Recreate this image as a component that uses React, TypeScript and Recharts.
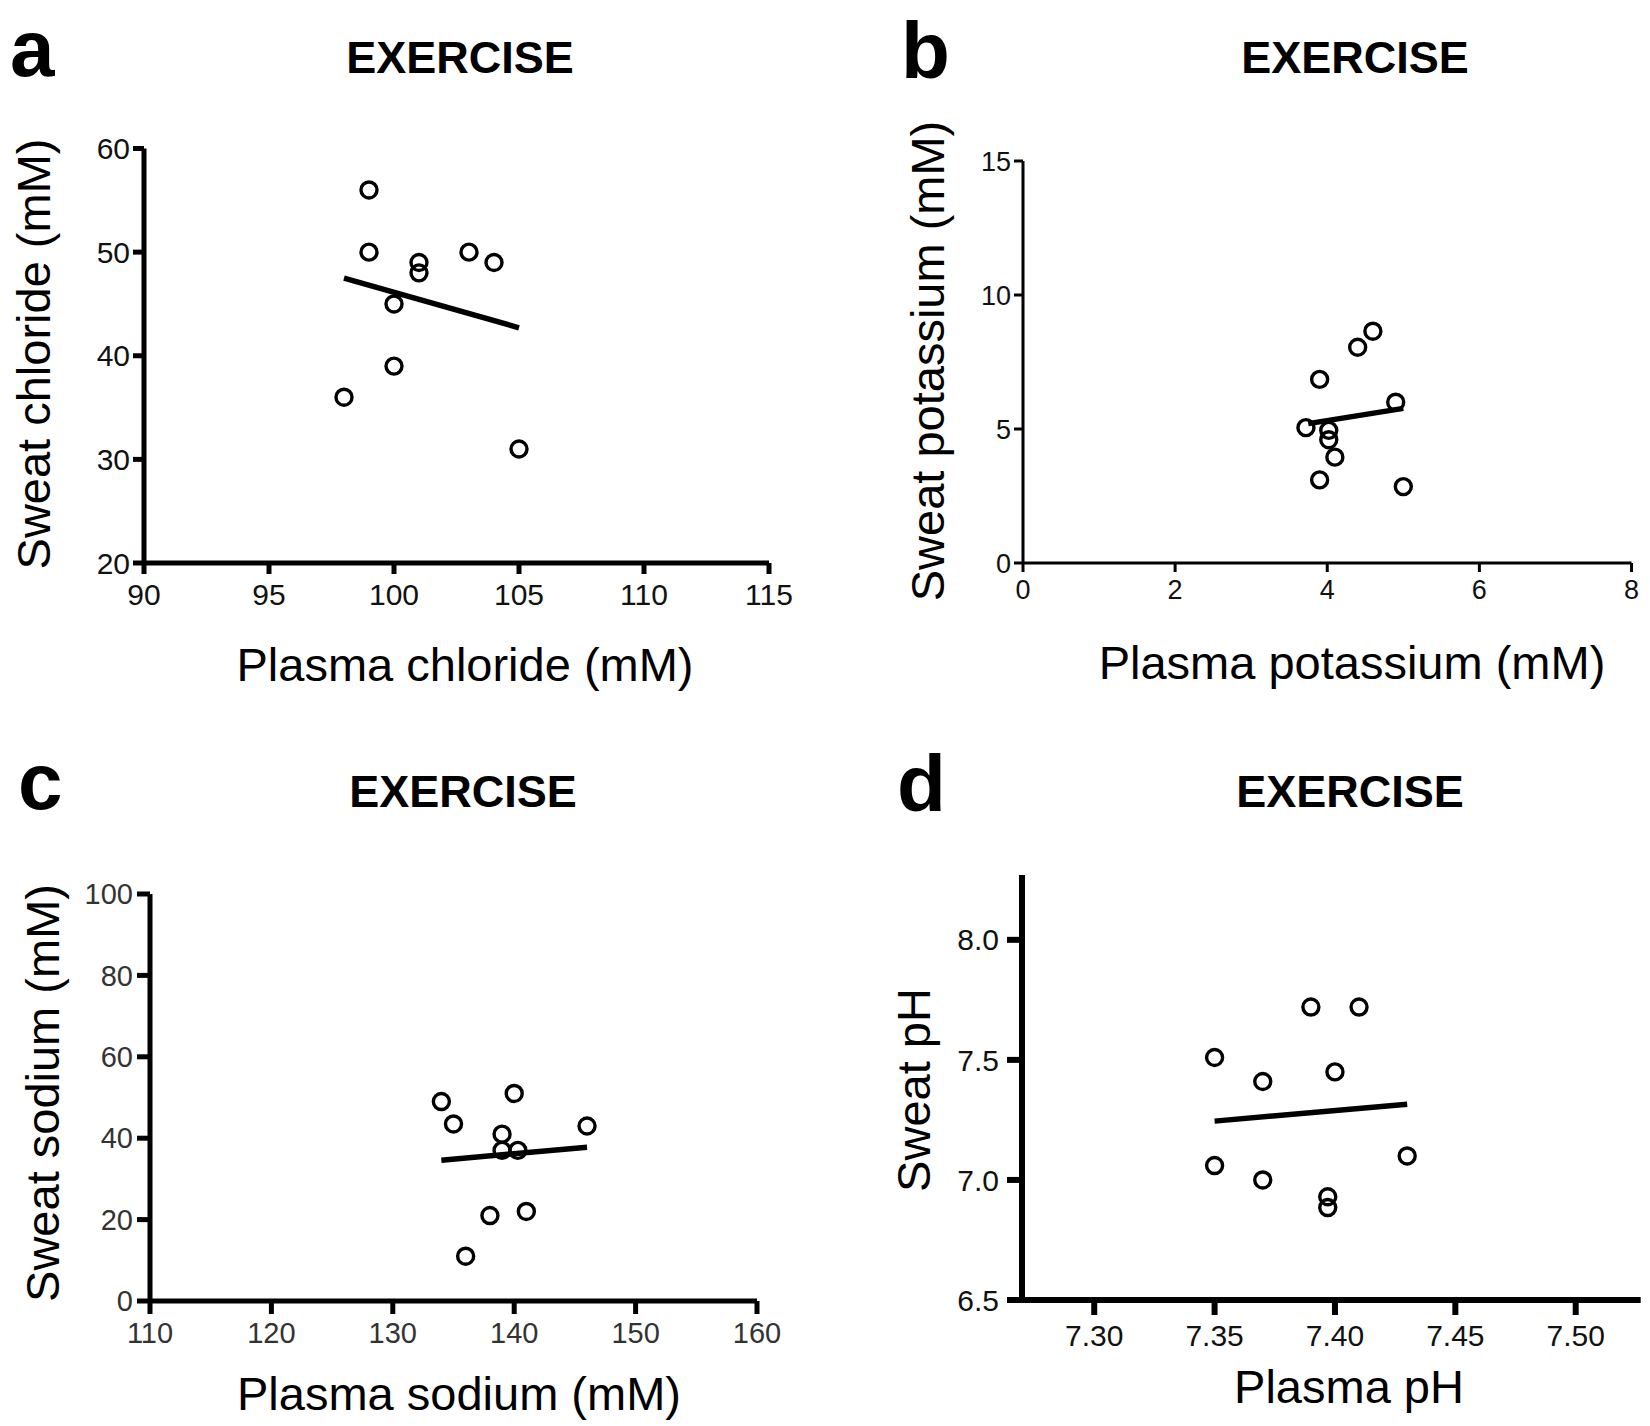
import React from 'react';
import { ScatterChart, Scatter, XAxis, YAxis } from 'recharts';

// panel a
const plasmaChloride = [99, 99, 101, 101, 103, 104, 100, 100, 98, 105];
const sweatChloride = [56, 50, 49, 48, 50, 49, 45, 39, 36, 31];
const chlorideFitX = [98, 105];
const chlorideFitY = [47.5, 42.7];
const chlorideTicksX = [90, 95, 100, 105, 110, 115];
const chlorideTicksY = [20, 30, 40, 50, 60];

// panel b
const plasmaPotassium = [4.6, 4.4, 3.9, 4.9, 3.72, 4.02, 4.02, 4.1, 3.9, 5.0];
const sweatPotassium = [8.65, 8.05, 6.85, 6.0, 5.05, 4.95, 4.6, 3.95, 3.1, 2.85];
const potassiumFitX = [3.75, 5.0];
const potassiumFitY = [5.2, 5.77];
const potassiumTicksX = [0, 2, 4, 6, 8];
const potassiumTicksY = [0, 5, 10, 15];

// panel c
const plasmaSodium = [134, 135, 140, 139, 139, 140.3, 146, 138, 141, 136];
const sweatSodium = [49, 43.5, 51, 41, 37, 37, 43, 21, 22, 11];
const sodiumFitX = [134, 146];
const sodiumFitY = [34.6, 37.8];
const sodiumTicksX = [110, 120, 130, 140, 150, 160];
const sodiumTicksY = [0, 20, 40, 60, 80, 100];

// panel d
const plasmaPH = [7.39, 7.41, 7.35, 7.37, 7.4, 7.35, 7.37, 7.43, 7.397, 7.397];
const sweatPH = [7.72, 7.72, 7.51, 7.41, 7.45, 7.06, 7.0, 7.1, 6.93, 6.885];
const phFitX = [7.35, 7.43];
const phFitY = [7.245, 7.315];
const phTicksX = [7.3, 7.35, 7.4, 7.45, 7.5];
const phTicksY = [6.5, 7.0, 7.5, 8.0];

const FONT = '"Liberation Sans", Arial, Helvetica, sans-serif';

const pairs = (xs: number[], ys: number[]) => xs.map((x, i) => ({ x, y: ys[i] }));

const Ring = (props: any) => (
    <circle cx={props.cx} cy={props.cy} r={8} fill="none" stroke="#000" strokeWidth={3.4} />
);

const Panel = (p: any) => {
    const axisStyle = { stroke: '#000', strokeWidth: p.axisWidth };
    return (
        <div style={{ position: 'absolute', left: p.left, top: p.top, width: 825, height: 713 }}>
            <ScatterChart width={825} height={713} margin={p.margin}>
                <XAxis
                    type="number"
                    dataKey="x"
                    domain={p.xDomain}
                    ticks={p.xTicks}
                    allowDataOverflow
                    height={50}
                    axisLine={axisStyle}
                    tickLine={axisStyle}
                    tickSize={p.tickSize}
                    tickMargin={p.tickMarginX}
                    tickFormatter={p.xFormat}
                    tick={{ fill: p.tickColor, fontSize: p.tickFont, fontFamily: FONT }}
                />
                <YAxis
                    type="number"
                    dataKey="y"
                    domain={p.yDomain}
                    ticks={p.yTicks}
                    allowDataOverflow
                    width={60}
                    axisLine={axisStyle}
                    tickLine={axisStyle}
                    tickSize={p.tickSize}
                    tickMargin={p.tickMarginY}
                    tickFormatter={p.yFormat}
                    tick={{ fill: p.tickColor, fontSize: p.tickFont, fontFamily: FONT }}
                />
                <Scatter data={p.points} shape={Ring} isAnimationActive={false} />
                <Scatter
                    data={p.fit}
                    line={{ stroke: '#000', strokeWidth: 5.5 }}
                    shape={() => <g />}
                    isAnimationActive={false}
                />
            </ScatterChart>
            <svg width={825} height={713} style={{ position: 'absolute', left: 0, top: 0, pointerEvents: 'none' }}>
                <text x={p.letter.x} y={p.letter.y} fontFamily={FONT} fontWeight={700} fontSize={80} fill="#000">
                    {p.letter.text}
                </text>
                <text x={p.title.x} y={p.title.y} textAnchor="middle" fontFamily={FONT} fontWeight={700} fontSize={45} fill="#000">
                    EXERCISE
                </text>
                <text x={p.xLabel.x} y={p.xLabel.y} textAnchor="middle" fontFamily={FONT} fontSize={47} fill="#000">
                    {p.xLabel.text}
                </text>
                <text
                    x={p.yLabel.x}
                    y={p.yLabel.y}
                    textAnchor="middle"
                    dominantBaseline="central"
                    transform={`rotate(-90, ${p.yLabel.x}, ${p.yLabel.y})`}
                    fontFamily={FONT}
                    fontSize={47}
                    fill="#000"
                >
                    {p.yLabel.text}
                </text>
            </svg>
        </div>
    );
};

const App = () => {
    return (
        <div style={{ position: 'absolute', left: 0, top: 0, width: 1650, height: 1426, background: '#fff' }}>
            <Panel
                left={0}
                top={0}
                margin={{ top: 148.5, right: 56, bottom: 100, left: 84 }}
                xDomain={[90, 115]}
                yDomain={[20, 60]}
                xTicks={chlorideTicksX}
                yTicks={chlorideTicksY}
                axisWidth={5}
                tickSize={11}
                tickMarginX={10}
                tickMarginY={3}
                tickFont={30}
                tickColor="#111"
                points={pairs(plasmaChloride, sweatChloride)}
                fit={pairs(chlorideFitX, chlorideFitY)}
                letter={{ text: 'a', x: 10, y: 76 }}
                title={{ x: 460, y: 73 }}
                xLabel={{ text: 'Plasma chloride (mM)', x: 465, y: 681 }}
                yLabel={{ text: 'Sweat chloride (mM)', x: 33, y: 354 }}
            />
            <Panel
                left={825}
                top={0}
                margin={{ top: 161, right: 18.5, bottom: 100, left: 138 }}
                xDomain={[0, 8]}
                yDomain={[0, 15]}
                xTicks={potassiumTicksX}
                yTicks={potassiumTicksY}
                axisWidth={3}
                tickSize={9}
                tickMarginX={8}
                tickMarginY={3}
                tickFont={27}
                tickColor="#111"
                points={pairs(plasmaPotassium, sweatPotassium)}
                fit={pairs(potassiumFitX, potassiumFitY)}
                letter={{ text: 'b', x: 76, y: 78 }}
                title={{ x: 530, y: 73 }}
                xLabel={{ text: 'Plasma potassium (mM)', x: 527, y: 679 }}
                yLabel={{ text: 'Sweat potassium (mM)', x: 102, y: 361 }}
            />
            <Panel
                left={0}
                top={713}
                margin={{ top: 181, right: 68, bottom: 75, left: 90 }}
                xDomain={[110, 160]}
                yDomain={[0, 100]}
                xTicks={sodiumTicksX}
                yTicks={sodiumTicksY}
                axisWidth={5}
                tickSize={13}
                tickMarginX={8}
                tickMarginY={4}
                tickFont={29}
                tickColor="#333"
                points={pairs(plasmaSodium, sweatSodium)}
                fit={pairs(sodiumFitX, sodiumFitY)}
                letter={{ text: 'c', x: 18, y: 96 }}
                title={{ x: 463, y: 94 }}
                xLabel={{ text: 'Plasma sodium (mM)', x: 459, y: 697 }}
                yLabel={{ text: 'Sweat sodium (mM)', x: 42, y: 380 }}
            />
            <Panel
                left={825}
                top={713}
                margin={{ top: 162, right: 9.3, bottom: 76, left: 137 }}
                xDomain={[7.27, 7.527]}
                yDomain={[6.5, 8.27]}
                xTicks={phTicksX}
                yTicks={phTicksY}
                xFormat={(v: number) => v.toFixed(2)}
                yFormat={(v: number) => v.toFixed(1)}
                axisWidth={6}
                tickSize={15}
                tickMarginX={10}
                tickMarginY={8}
                tickFont={30}
                tickColor="#111"
                points={pairs(plasmaPH, sweatPH)}
                fit={pairs(phFitX, phFitY)}
                letter={{ text: 'd', x: 72, y: 98 }}
                title={{ x: 525, y: 94 }}
                xLabel={{ text: 'Plasma pH', x: 524, y: 690 }}
                yLabel={{ text: 'Sweat pH', x: 88, y: 377 }}
            />
        </div>
    );
};

export default App;
